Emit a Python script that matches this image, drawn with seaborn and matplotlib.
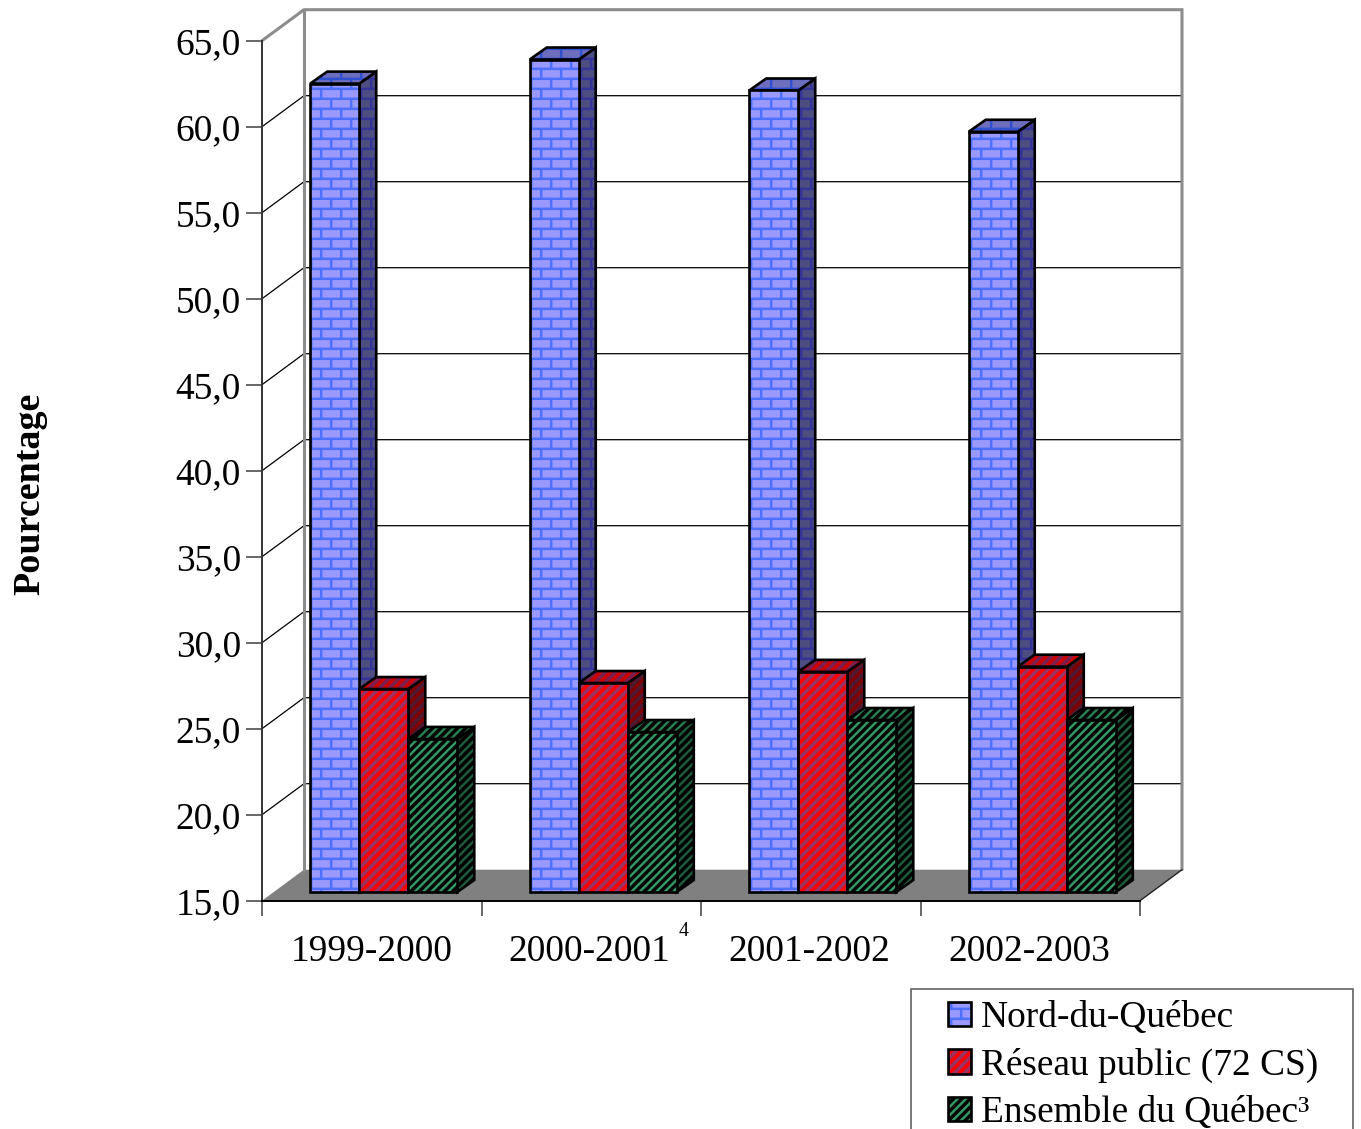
import warnings
import numpy as np
import pandas as pd
import matplotlib
matplotlib.use("Agg")
import matplotlib.pyplot as plt
import matplotlib.hatch as mhatch
from matplotlib.path import Path
from matplotlib.patches import Patch, Polygon, Rectangle
from matplotlib.colors import to_rgba
from matplotlib.transforms import ScaledTranslation
import seaborn as sns

warnings.filterwarnings("ignore")

# ---- data ----
years = ["1999-2000", "2000-2001", "2001-2002", "2002-2003"]
nord_du_quebec = [62.0, 63.4, 61.6, 59.2]
reseau_public = [26.8, 27.15, 27.8, 28.1]
ensemble_quebec = [23.9, 24.3, 25.0, 25.0]
series_names = ["Nord-du-Québec", "Réseau public (72 CS)", "Ensemble du Québec³"]
y_ticks = [15, 20, 25, 30, 35, 40, 45, 50, 55, 60, 65]
y_labels = ["15,0", "20,0", "25,0", "30,0", "35,0", "40,0", "45,0", "50,0", "55,0", "60,0", "65,0"]
y_title = "Pourcentage"


# ---- custom fill patterns (1 inch tile = 100 px) ----
def _rect_into(vertices, codes, i, pts):
    vertices[i:i + 5] = pts + [pts[0]]
    codes[i:i + 5] = [Path.MOVETO, Path.LINETO, Path.LINETO, Path.LINETO, Path.CLOSEPOLY]


class BrickHatch(mhatch.HatchPatternBase):
    rows, cols, t = 10, 5, 0.023

    def __init__(self, hatch, density):
        self.num_vertices = 5 * (self.rows + self.rows * self.cols) if "B" in hatch else 0

    def set_vertices_and_codes(self, vertices, codes):
        i, t = 0, self.t
        for r in range(self.rows):
            y0 = r / self.rows
            _rect_into(vertices, codes, i, [(0, y0), (1, y0), (1, y0 + t), (0, y0 + t)])
            i += 5
            for c in range(self.cols):
                x0 = (c + (r % 2) / 2) / self.cols
                y1 = y0 + 1 / self.rows
                _rect_into(vertices, codes, i, [(x0, y0), (x0 + t, y0), (x0 + t, y1), (x0, y1)])
                i += 5


class StripeHatch(mhatch.HatchPatternBase):
    char, n, frac = "S", 12, 0.56

    def __init__(self, hatch, density):
        self.w = self.frac / self.n
        self.num_vertices = 5 * 2 * self.n if self.char in hatch else 0

    def set_vertices_and_codes(self, vertices, codes):
        i = 0
        for k in range(-self.n, self.n):
            x0 = k / self.n
            _rect_into(vertices, codes, i, [(x0, 0), (x0 + self.w, 0), (x0 + self.w + 1, 1), (x0 + 1, 1)])
            i += 5


class WideStripeHatch(StripeHatch):
    char, n, frac = "R", 10, 0.5


mhatch._hatch_types.extend([BrickHatch, StripeHatch, WideStripeHatch])

# ---- theme ----
sns.set_style("white")
plt.rcParams["font.family"] = ["Liberation Serif", "DejaVu Sans"]
plt.rcParams["hatch.linewidth"] = 0.1
plt.rcParams["text.color"] = "black"
plt.rcParams["xtick.color"] = "black"
plt.rcParams["ytick.color"] = "black"
plt.rcParams["xtick.labelcolor"] = "black"
plt.rcParams["ytick.labelcolor"] = "black"
FS = 26.95

W, H = 1361, 1129
fig = plt.figure(figsize=(W / 100, H / 100), dpi=100, facecolor="white")

# styles: (hatch, front face, front hatch, side face, side hatch, top face, top hatch)
styles = {
    series_names[0]: ("B", "#9999FF", "#4D70FF", "#4D4D80", "#333399", "#6E6EBE", "#2F50D0"),
    series_names[1]: ("R", "#993366", "#FF0000", "#4D1A33", "#800000", "#7A2050", "#CC0000"),
    series_names[2]: ("S", "#339966", "#000000", "#1F5C3D", "#000000", "#2A8055", "#000000"),
}
EDGE = 1.9

# ---- frame axes (front plane) ----
ax = fig.add_axes([262 / W, 1 - 900.7 / H, 878 / W, 860 / H])
ax.set_xlim(-0.5, 3.5)
ax.set_ylim(15, 65)
ax.patch.set_visible(False)
for s in ("top", "right"):
    ax.spines[s].set_visible(False)
ax.spines["left"].set_color("#333333")
ax.spines["left"].set_linewidth(1.4)
ax.spines["bottom"].set_color("#000000")
ax.spines["bottom"].set_linewidth(1.4)

wall_dx = 42 / (878 / 4)
wall_dy = 31 / (860 / 50)
x0, x1 = -0.5, 3.5

ax.add_patch(Polygon([(x0, 15), (x0 + wall_dx, 15 + wall_dy), (x1 + wall_dx, 15 + wall_dy), (x1, 15)],
                     closed=True, facecolor="#808080", edgecolor="none", clip_on=False, zorder=1))
for v in y_ticks[1:-1]:
    ax.plot([x0, x0 + wall_dx, x1 + wall_dx], [v, v + wall_dy, v + wall_dy],
            color="#000000", lw=0.9, clip_on=False, zorder=1.5)
ax.plot([x0, x0 + wall_dx, x1 + wall_dx, x1 + wall_dx],
        [65, 65 + wall_dy, 65 + wall_dy, 15 + wall_dy],
        color="#8C8C8C", lw=2.2, clip_on=False, zorder=1.6, solid_joinstyle="miter")
ax.plot([x0 + wall_dx, x0 + wall_dx], [15 + wall_dy, 65 + wall_dy],
        color="#8C8C8C", lw=2.2, clip_on=False, zorder=1.6)
ax.plot([x1, x1 + wall_dx], [15, 15 + wall_dy], color="#222222", lw=1.0, clip_on=False, zorder=1.6)

ax.set_yticks(y_ticks, y_labels)
ax.tick_params(axis="y", left=True, length=11.5, width=1.4, color="#666666",
               labelsize=FS, pad=3.6, labelcolor="black")
centers = np.arange(len(years))
ax.set_xticks(centers, years)
ax.tick_params(axis="x", which="major", bottom=False, length=0, labelsize=FS, pad=24.5, labelcolor="black")
ax.set_xticks(np.arange(len(years) + 1) - 0.5, minor=True)
ax.tick_params(axis="x", which="minor", bottom=True, length=10.8, width=1.4, color="#666666")
for lab, px in zip(ax.get_xticklabels(), (-0.5, -2.5, -1, -1)):
    lab.set_transform(lab.get_transform() + ScaledTranslation(px / 100, 0, fig.dpi_scale_trans))

fig.text(683.5 / W, 1 - 931 / H, "4", fontsize=14.4, ha="center", va="center", color="black")
fig.text(30 / W, 1 - 493.5 / H, y_title, rotation=90, fontsize=27.4, fontweight="bold",
         ha="center", va="center", color="black")

# ---- bars, drawn by seaborn on the plane of the bars ----
bar_ax = fig.add_axes([274 / W, 1 - 892 / H, 878 / W, 860 / H])
bar_ax.patch.set_visible(False)
df = pd.DataFrame({
    "annee": years * 3,
    "serie": [series_names[0]] * 4 + [series_names[1]] * 4 + [series_names[2]] * 4,
    "valeur": nord_du_quebec + reseau_public + ensemble_quebec,
})
sns.barplot(data=df, x="annee", y="valeur", hue="serie", order=years, hue_order=series_names,
            palette={k: v[1] for k, v in styles.items()}, saturation=1, width=0.67, gap=0,
            legend=False, ax=bar_ax, errorbar=None)
bar_ax.set_xlim(-0.5, 3.5)
bar_ax.set_ylim(15, 65)
bar_ax.axis("off")

bar_dx = 17 / (878 / 4)
bar_dy = 12 / (860 / 50)

all_bars = []
for name, cont in zip(series_names, bar_ax.containers):
    for bar in cont:
        all_bars.append((bar, name))
all_bars.sort(key=lambda t: t[0].get_x())

for z, (bar, name) in enumerate(all_bars):
    hatch, fc, hc, sc, shc, tc, thc = styles[name]
    left, w, top = bar.get_x(), bar.get_width(), bar.get_height()
    bar.set_y(15)
    bar.set_height(top - 15)
    bar.set_facecolor(fc)
    bar.set_edgecolor("black")
    bar.set_linewidth(EDGE)
    bar.set_hatch(hatch)
    bar._hatch_color = to_rgba(hc)
    bar.set_joinstyle("miter")
    bar.set_clip_on(False)
    bar.set_zorder(10 + 3 * z + 2)
    right = left + w
    side = Polygon([(right, 15), (right + bar_dx, 15 + bar_dy), (right + bar_dx, top + bar_dy), (right, top)],
                   closed=True, facecolor=sc, edgecolor="black", lw=EDGE, hatch=hatch,
                   clip_on=False, zorder=10 + 3 * z, joinstyle="miter")
    side._hatch_color = to_rgba(shc)
    bar_ax.add_patch(side)
    cap = Polygon([(left, top), (left + bar_dx, top + bar_dy), (right + bar_dx, top + bar_dy), (right, top)],
                  closed=True, facecolor=tc, edgecolor="black", lw=EDGE, hatch=hatch,
                  clip_on=False, zorder=10 + 3 * z + 1, joinstyle="miter")
    cap._hatch_color = to_rgba(thc)
    bar_ax.add_patch(cap)

# ---- legend ----
fig.add_artist(Rectangle((910.5 / W, 1 - 1160 / H), 442.5 / W, 171.5 / H, transform=fig.transFigure,
                         facecolor="white", edgecolor="#555555", lw=1.1))
handles = []
for name in series_names:
    hatch, fc, hc, *_ = styles[name]
    p = Patch(facecolor=fc, edgecolor="black", lw=EDGE, hatch=hatch)
    p._hatch_color = to_rgba(hc)
    handles.append(p)
fig.legend(handles, series_names, loc="upper left", bbox_to_anchor=(948 / W, 1 - 1000.5 / H),
           frameon=False, fontsize=FS, borderpad=0, borderaxespad=0, handlelength=0.62,
           handleheight=0.62, handletextpad=0.25, labelspacing=0.34, labelcolor="black")

fig.savefig("out.png", dpi=100, facecolor="white")
